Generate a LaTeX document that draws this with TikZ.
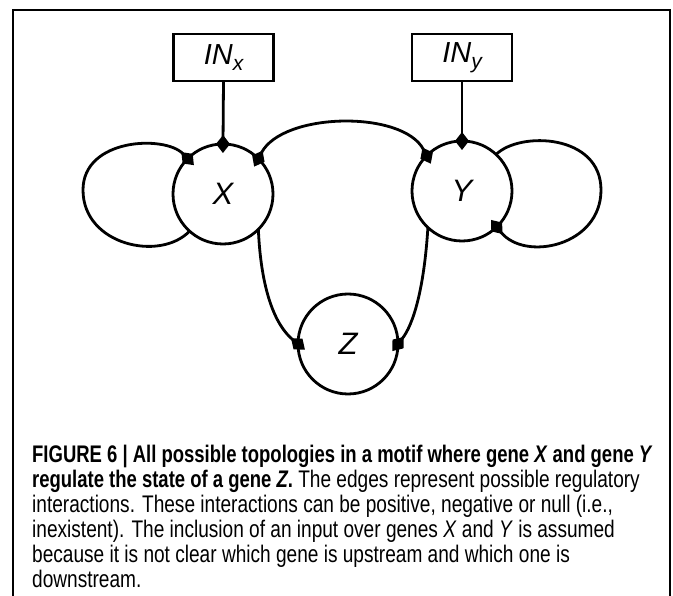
\documentclass[tikz,border=0pt]{standalone}
\usepackage{fontspec}
\setmainfont{Liberation Sans}
\newfontfamily\capfont[FakeStretch=0.795,
  BoldFeatures={FakeStretch=0.77}, BoldItalicFeatures={FakeStretch=0.77}]{Liberation Sans}
\usetikzlibrary{arrows.meta}

\tikzset{
  gene/.style={circle, draw, line width=2.8pt, minimum size=100pt,
    inner sep=0pt, outer sep=0pt, font=\fontsize{31}{31}\selectfont\itshape},
  inbox/.style={rectangle, draw, line width=2.8pt, minimum width=100pt,
    minimum height=47pt, inner sep=0pt, outer sep=0pt,
    font=\fontsize{29}{29}\selectfont\itshape},
  link/.style={line width=2.8pt},
  tipd/.tip={Diamond[length=18pt,width=14pt]},
  to diamond/.style={-tipd, shorten >=-9pt},
  from diamond/.style={tipd-, shorten <=-9pt},
  both diamond/.style={tipd-tipd, shorten <=-9pt, shorten >=-9pt},
  frame/.style={line width=1.8pt},
  caption/.style={anchor=base west, align=left, inner sep=0pt,
    font=\capfont\fontsize{24}{25}\selectfont}
}

\begin{document}
\begin{tikzpicture}[x=1pt, y=-1pt]
  \useasboundingbox (0,0) rectangle (673,596);

  % open frame round the figure
  \draw[frame] (13,596) -- (13,10) -- (670,10) -- (670,596);

  % genes
  \node[gene] (X) at (223,194) {X};
  \node[gene] (Y) at (462,191) {Y};
  \node[gene] (Z) at (348,344) {Z};

  % inputs
  \node[inbox] (INx) at (223.5,57.5) {IN\raisebox{-6pt}{\fontsize{21}{21}\selectfont x}};
  \node[inbox] (INy) at (462,57.5) {IN\raisebox{-6pt}{\fontsize{21}{21}\selectfont y}};

  \draw[link, to diamond] (INx.south) -- (X.north);
  \draw[link, to diamond] (INy.south) -- (Y.north);

  % self loops
  \draw[link, from diamond] (X.135) .. controls (165,135) and (83,138) .. (83,190)
    .. controls (83,245) and (160,262) .. (X.-132);
  \draw[link, to diamond] (Y.47) .. controls (520,131) and (601,134) .. (601,190)
    .. controls (601,246) and (525,262) .. (Y.-46);

  % X -- Y
  \draw[link, both diamond] (X.45) .. controls (283,112) and (403,110) .. (Y.135);

  % X, Y onto Z
  \draw[link, to diamond] (X.-45) .. controls (261,290) and (275,325) .. (Z.west);
  \draw[link, to diamond] (Y.-133) .. controls (424,290) and (413,325) .. (Z.east);

  % caption (base anchor sits on the last line)
  \node[caption] (cap) at (32,587) {%
    \textbf{FIGURE 6 | All possible topologies in a motif where gene \textit{X} and gene \textit{Y}}\\
    \textbf{regulate the state of a gene \textit{Z}.} The edges represent possible regulatory\\
    interactions. These interactions can be positive, negative or null (i.e.,\\
    inexistent). The inclusion of an input over genes \textit{X} and \textit{Y} is assumed\\
    because it is not clear which gene is upstream and which one is\\
    downstream.};
\end{tikzpicture}
\end{document}
